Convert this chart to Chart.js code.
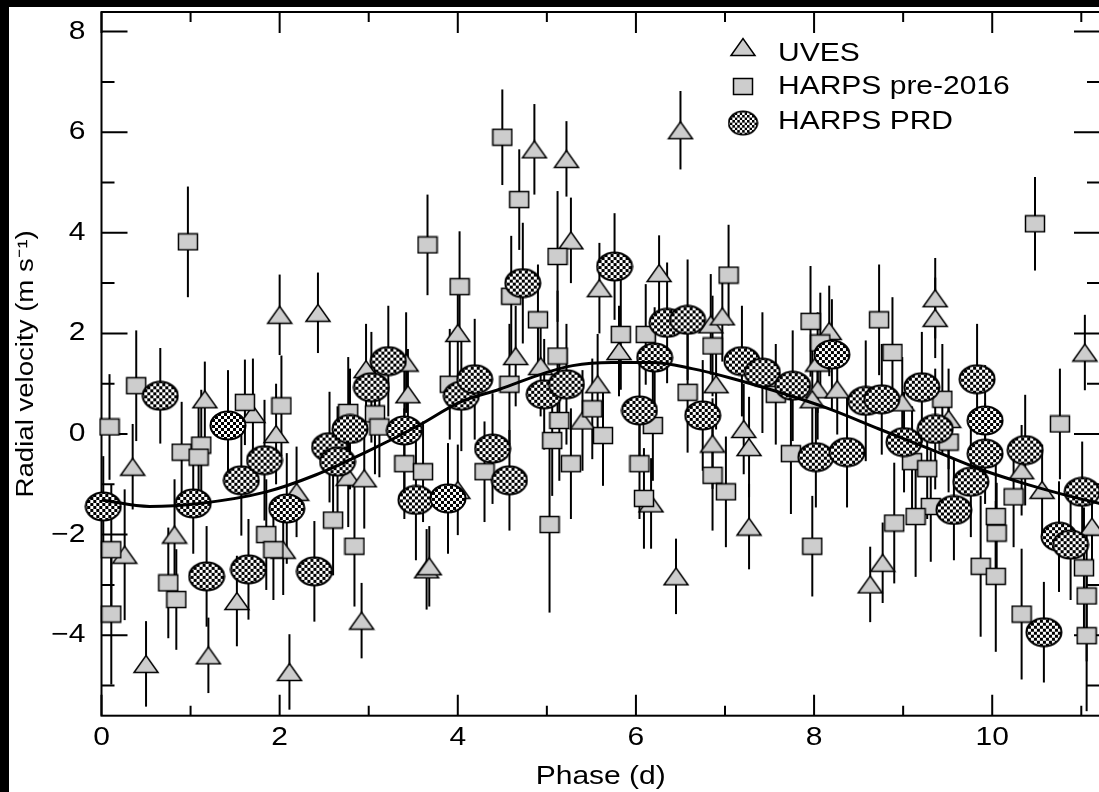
<!DOCTYPE html>
<html lang="en">
<head>
  <meta charset="UTF-8" />
  <title>Radial velocity vs phase</title>
  <script src="https://cdn.jsdelivr.net/npm/chart.js"></script>
  <style>
    html, body {
      margin: 0;
      padding: 0;
      background: #fff;
      overflow: hidden;
    }
    #wrap {
      position: absolute;
      left: 9px;
      top: 7px;
      width: 1096px;
      height: 785px;
      background: #fff;
    }
    /* dark scan edges of the original figure */
    .edge { position: absolute; background: #000; }
    #edgeLeft { left: 0; top: 0; width: 9px; height: 792px; }
    #edgeTop { left: 0; top: 0; width: 1099px; height: 7px; }
  </style>
</head>
<body>
  <div id="wrap"><canvas id="rvChart" width="1096" height="785"></canvas></div>
  <div class="edge" id="edgeLeft"></div>
  <div class="edge" id="edgeTop"></div>

  <script>
    // UVES (triangles): phase, RV, error
    const uvesX = [0.35, 0.26, 0.50, 0.82, 1.20, 1.16, 1.52, 1.70, 2.00, 2.43, 1.96, 2.04, 2.11, 2.92, 2.19,
      2.77, 2.95, 2.97, 3.42, 3.44, 3.65, 3.68, 4.00, 4.00, 4.65, 4.86, 5.22, 5.27, 4.93, 5.59,
      5.57, 5.40, 5.81, 6.26, 6.50, 6.45, 6.17, 6.84, 6.97, 6.90, 6.86, 7.21, 7.27, 7.27, 8.17,
      8.04, 8.04, 8.26, 7.98, 8.99, 9.36, 9.36, 9.51, 8.63, 8.77, 10.33, 10.56, 11.04, 11.12];
    const uvesY = [-0.65, -2.40, -4.57, -2.00, -4.40, 0.69, -3.32, 0.40, 2.37, 2.41, 0.00, -2.30, -4.73, -3.71, -1.15,
      -0.85, -0.88, 1.29, 1.42, 0.79, -2.69, -2.63, 2.01, -1.11, 1.55, 5.66, 5.47, 3.85, 1.35, 2.90,
      0.99, 0.27, 1.65, 3.20, 6.04, -2.83, -1.38, 2.18, 2.34, 0.99, -0.19, 0.10, -0.26, -1.84, 2.05,
      1.42, 0.89, 0.89, 0.69, 0.63, 2.70, 2.31, 0.30, -2.99, -2.56, -0.72, -1.11, 1.62, -1.84];
    const uvesErr = [0.85, 1.3, 0.85, 1.1, 0.75, 0.75, 0.9, 1.1, 0.8, 0.8, 1.0, 0.9, 0.75, 0.75, 0.9,
      1.0, 1.0, 0.9, 1.0, 0.9, 0.8, 0.8, 0.9, 0.9, 1.0, 0.9, 0.75, 0.85, 1.0, 0.9,
      1.0, 1.0, 0.9, 0.75, 0.78, 0.75, 0.9, 1.0, 0.9, 0.9, 0.9, 0.9, 1.0, 0.85, 0.9,
      1.0, 1.0, 0.9, 1.0, 0.9, 0.8, 0.8, 1.0, 0.75, 0.8, 0.9, 0.9, 0.75, 0.9];

    // HARPS pre-2016 (squares)
    const harpsX = [0.09, 0.39, 0.11, 0.11, 0.75, 0.84, 0.97, 0.90, 1.12, 1.09, 1.61, 2.02, 1.85, 1.93, 2.77,
      2.60, 2.84, 3.07, 3.12, 3.40, 3.61, 3.66, 3.91, 4.02, 4.30, 4.50, 4.69, 4.60, 4.90, 4.58,
      5.12, 5.12, 5.03, 5.06, 5.14, 5.27, 5.51, 5.63, 5.83, 6.11, 6.04, 6.09, 6.19, 6.58, 6.86,
      6.86, 7.01, 7.04, 7.57, 7.74, 7.96, 7.98, 8.07, 8.73, 8.88, 8.90, 9.10, 9.27, 9.31, 9.14,
      9.44, 9.51, 9.87, 10.04, 10.05, 10.04, 10.24, 10.33, 10.48, 10.76, 11.03, 11.06, 11.06];
    const harpsY = [0.14, 0.96, -2.30, -3.58, -2.96, -3.29, 3.82, -0.36, -0.22, -0.46, 0.63, 0.56, -2.00, -2.30, 0.43,
      -1.71, -2.23, 0.40, 0.14, -0.59, -0.75, 3.76, 0.99, 2.93, -0.75, 5.90, 4.66, 2.74, 2.27, 0.99,
      3.53, 1.55, -1.80, -0.13, 0.27, -0.59, 0.50, -0.03, 1.98, 1.98, -0.59, -1.28, 0.17, 0.83, 1.75,
      -0.82, -1.15, 3.16, 0.79, -0.39, 2.24, -2.23, 1.81, 2.27, 1.62, -1.77, -0.55, -0.69, -1.44, -1.64,
      0.69, -0.16, -2.63, -2.83, -1.97, -1.64, -1.25, -3.58, 4.18, 0.20, -2.66, -3.22, -4.01];
    const harpsErr = [1.05, 1.1, 1.3, 1.4, 1.1, 1.0, 1.1, 1.0, 1.1, 1.0, 0.85, 1.0, 1.1, 1.0, 1.1,
      1.1, 1.2, 1.2, 1.0, 1.1, 1.0, 1.0, 1.1, 1.1, 1.0, 0.95, 1.0, 1.2, 1.1, 1.2,
      1.3, 1.3, 1.75, 1.1, 1.2, 1.1, 1.0, 1.0, 1.1, 1.0, 1.1, 1.0, 1.1, 1.2, 1.0,
      1.1, 1.1, 1.0, 1.0, 1.2, 1.1, 1.0, 1.0, 1.1, 1.1, 1.2, 1.1, 1.0, 1.1, 1.2,
      1.1, 1.0, 1.4, 1.5, 1.0, 1.1, 1.0, 1.3, 0.93, 1.1, 1.2, 1.3, 1.5];

    // HARPS PRD (checkered ellipses)
    const prdX = [0.02, 0.66, 1.03, 1.18, 1.42, 1.57, 1.65, 1.83, 2.08, 2.39, 2.56, 2.65, 2.79, 3.03, 3.22,
      3.40, 3.53, 3.89, 4.04, 4.19, 4.39, 4.58, 4.73, 4.97, 5.22, 5.76, 6.04, 6.21, 6.35, 6.58,
      6.75, 7.19, 7.42, 7.76, 8.02, 8.20, 8.37, 8.58, 8.76, 9.01, 9.21, 9.36, 9.57, 9.76, 9.83,
      9.92, 9.92, 10.37, 10.58, 10.75, 10.88, 11.01];
    const prdY = [-1.44, 0.76, -1.38, -2.83, 0.17, -0.92, -2.69, -0.52, -1.48, -2.73, -0.26, -0.55, 0.10, 0.93, 1.45,
      0.07, -1.31, -1.28, 0.76, 1.09, -0.29, -0.92, 3.00, 0.79, 0.99, 3.33, 0.47, 1.52, 2.21, 2.27,
      0.37, 1.45, 1.22, 0.96, -0.46, 1.58, -0.36, 0.66, 0.69, -0.16, 0.93, 0.10, -1.51, -0.95, 1.09,
      0.27, -0.39, -0.32, -3.94, -2.04, -2.20, -1.15];
    const prdErr = [1.0, 0.95, 1.0, 1.0, 1.1, 1.1, 1.0, 1.2, 1.1, 1.0, 1.1, 1.1, 1.2, 1.1, 1.1,
      1.2, 1.2, 1.1, 1.1, 1.2, 1.1, 1.0, 1.2, 1.1, 1.2, 1.06, 1.1, 1.0, 1.2, 1.2,
      1.1, 1.1, 1.2, 1.1, 1.0, 1.1, 1.1, 1.2, 1.1, 1.0, 1.1, 1.2, 1.0, 1.1, 1.1,
      1.1, 1.0, 1.1, 1.0, 1.1, 1.1, 1.0];

    // fitted curve
    const curveX = [0, 0.54, 1.10, 1.85, 2.41, 2.97, 3.57, 4.02, 4.47, 4.99, 5.29, 5.73, 6.18, 6.63, 7.05,
      7.61, 8.17, 8.73, 9.29, 9.85, 10.41, 10.97, 11.21];
    const curveY = [-1.31, -1.44, -1.38, -1.15, -0.81, -0.36, 0.18, 0.63, 0.89, 1.22, 1.36, 1.42, 1.42, 1.30, 1.12,
      0.83, 0.50, 0.10, -0.29, -0.69, -1.01, -1.28, -1.38];

    const xMinorTicks = [1, 3, 5, 7, 9, 11];
    const yMinorTicks = [-5, -3, -1, 1, 3, 5, 7];

    const FONT = "'Liberation Sans', Arial, Helvetica, sans-serif";
    const TEXT_STRETCH = 1.2;

    function toPoints(xs, ys) {
      return xs.map((x, i) => ({ x: x, y: ys[i] }));
    }

    function triangleMarker() {
      const c = document.createElement('canvas');
      c.width = 28; c.height = 20;
      const g = c.getContext('2d');
      g.beginPath();
      g.moveTo(2, 18.5); g.lineTo(26, 18.5); g.lineTo(14, 1.5); g.closePath();
      g.fillStyle = '#cdcdcd'; g.fill();
      g.lineWidth = 1.5; g.strokeStyle = '#000'; g.stroke();
      return c;
    }

    function squareMarker() {
      const c = document.createElement('canvas');
      c.width = 22; c.height = 19;
      const g = c.getContext('2d');
      g.fillStyle = '#cdcdcd';
      g.fillRect(1.5, 1.5, 19, 16);
      g.lineWidth = 1.5; g.strokeStyle = '#000';
      g.strokeRect(1.5, 1.5, 19, 16);
      return c;
    }

    function ellipseMarker() {
      const tile = document.createElement('canvas');
      tile.width = 6; tile.height = 6;
      const t = tile.getContext('2d');
      t.fillStyle = '#fff'; t.fillRect(0, 0, 6, 6);
      t.fillStyle = '#000'; t.fillRect(0, 0, 3, 3); t.fillRect(3, 3, 3, 3);

      const c = document.createElement('canvas');
      c.width = 38; c.height = 31;
      const g = c.getContext('2d');
      g.beginPath();
      g.ellipse(19, 15.5, 17.5, 14, 0, 0, Math.PI * 2);
      g.fillStyle = g.createPattern(tile, 'repeat'); g.fill();
      g.lineWidth = 2; g.strokeStyle = '#000'; g.stroke();
      return c;
    }

    const triImg = triangleMarker();
    const sqImg = squareMarker();
    const ellImg = ellipseMarker();

    // vertical error bars, drawn under the markers
    const errorBars = {
      id: 'errorBars',
      beforeDatasetsDraw(chart) {
        const { ctx, scales: { x, y } } = chart;
        ctx.save();
        ctx.strokeStyle = '#000';
        ctx.lineWidth = 2;
        chart.data.datasets.forEach(ds => {
          if (!ds.errors) return;
          ds.data.forEach((p, i) => {
            const px = x.getPixelForValue(p.x);
            ctx.beginPath();
            ctx.moveTo(px, y.getPixelForValue(p.y - ds.errors[i]));
            ctx.lineTo(px, y.getPixelForValue(p.y + ds.errors[i]));
            ctx.stroke();
          });
        });
        ctx.restore();
      }
    };

    // box around the plot with inward ticks on all four sides
    const frame = {
      id: 'frame',
      beforeDatasetsDraw(chart) {
        const { ctx, chartArea: a, scales: { x, y } } = chart;
        ctx.save();
        ctx.strokeStyle = '#000';
        ctx.lineWidth = 2;
        ctx.strokeRect(a.left, a.top, a.right - a.left, a.bottom - a.top);
        ctx.beginPath();
        const xTick = (v, len) => {
          const px = x.getPixelForValue(v);
          ctx.moveTo(px, a.bottom); ctx.lineTo(px, a.bottom - len);
          ctx.moveTo(px, a.top); ctx.lineTo(px, a.top + len);
        };
        const yTick = (v, len) => {
          const py = y.getPixelForValue(v);
          ctx.moveTo(a.left, py); ctx.lineTo(a.left + len, py);
          ctx.moveTo(a.right, py); ctx.lineTo(a.right - len, py);
        };
        x.ticks.forEach(t => xTick(t.value, 21));
        xMinorTicks.forEach(v => xTick(v, 10));
        y.ticks.forEach(t => yTick(t.value, 26));
        yMinorTicks.forEach(v => yTick(v, 13));
        ctx.stroke();
        ctx.restore();
      }
    };

    // legend in the top right corner of the plot
    const cornerLegend = {
      id: 'cornerLegend',
      afterDraw(chart) {
        const ctx = chart.ctx;
        const entries = chart.data.datasets.filter(ds => ds.label).reverse();
        const markerY = [40, 79.5, 116];
        const textY = [47.5, 80, 115.5];
        ctx.save();
        ctx.fillStyle = '#000';
        ctx.font = '25px ' + FONT;
        ctx.textAlign = 'left';
        ctx.textBaseline = 'middle';
        entries.forEach((ds, i) => {
          const img = ds.pointStyle;
          const w = img === ellImg ? 31 : img.width;
          const h = img === ellImg ? 26 : img.height;
          ctx.drawImage(img, 734 - w / 2, markerY[i] - h / 2, w, h);
          ctx.fillText(ds.label, 769, textY[i]);
        });
        ctx.restore();
      }
    };

    const canvas = document.getElementById('rvChart');
    const ctx = canvas.getContext('2d');

    // the original lettering is a wide Helvetica, so stretch all canvas text a little
    const rawFillText = ctx.fillText.bind(ctx);
    ctx.fillText = function (text, x, y, maxWidth) {
      ctx.save();
      ctx.translate(x, y);
      ctx.scale(TEXT_STRETCH, 1);
      if (maxWidth === undefined) rawFillText(text, 0, 0);
      else rawFillText(text, 0, 0, maxWidth / TEXT_STRETCH);
      ctx.restore();
    };

    Chart.defaults.font.family = FONT;
    Chart.defaults.color = '#000';

    const minus = v => String(v).replace('-', '\u2212');

    new Chart(ctx, {
      type: 'scatter',
      data: {
        datasets: [
          {
            type: 'line',
            data: toPoints(curveX, curveY),
            borderColor: '#000',
            borderWidth: 3,
            pointRadius: 0,
            cubicInterpolationMode: 'monotone',
            fill: false
          },
          {
            label: 'HARPS PRD',
            data: toPoints(prdX, prdY),
            errors: prdErr,
            pointStyle: ellImg,
            clip: false
          },
          {
            label: 'HARPS pre-2016',
            data: toPoints(harpsX, harpsY),
            errors: harpsErr,
            pointStyle: sqImg,
            clip: false
          },
          {
            label: 'UVES',
            data: toPoints(uvesX, uvesY),
            errors: uvesErr,
            pointStyle: triImg,
            clip: false
          }
        ]
      },
      options: {
        responsive: false,
        animation: false,
        events: [],
        layout: { padding: { top: 0, left: 0, bottom: 0, right: 2 } },
        plugins: {
          legend: { display: false },
          tooltip: { enabled: false }
        },
        scales: {
          x: {
            type: 'linear',
            min: 0,
            max: 11.21,
            grid: { display: false, drawTicks: false },
            border: { display: false },
            ticks: {
              stepSize: 2,
              includeBounds: false,
              padding: 7,
              font: { size: 25 },
              callback: minus
            },
            title: {
              display: true,
              text: 'Phase (d)',
              font: { size: 25 },
              padding: { top: 0, bottom: 0 }
            },
            afterFit(scale) {
              scale.height = 76.3;
              scale.paddingLeft = 0;
              scale.paddingRight = 0;
            }
          },
          y: {
            min: -5.6,
            max: 8.39,
            grid: { display: false, drawTicks: false },
            border: { display: false },
            ticks: {
              stepSize: 2,
              includeBounds: false,
              padding: 16,
              font: { size: 25 },
              callback: minus
            },
            title: {
              display: true,
              text: 'Radial velocity (m s\u207B\u00B9)',
              font: { size: 23 },
              padding: { top: 4, bottom: 0 }
            },
            afterFit(scale) {
              scale.width = 92.5;
              scale.paddingTop = 0;
              scale.paddingBottom = 0;
            }
          }
        }
      },
      plugins: [frame, errorBars, cornerLegend]
    });
  </script>
</body>
</html>
